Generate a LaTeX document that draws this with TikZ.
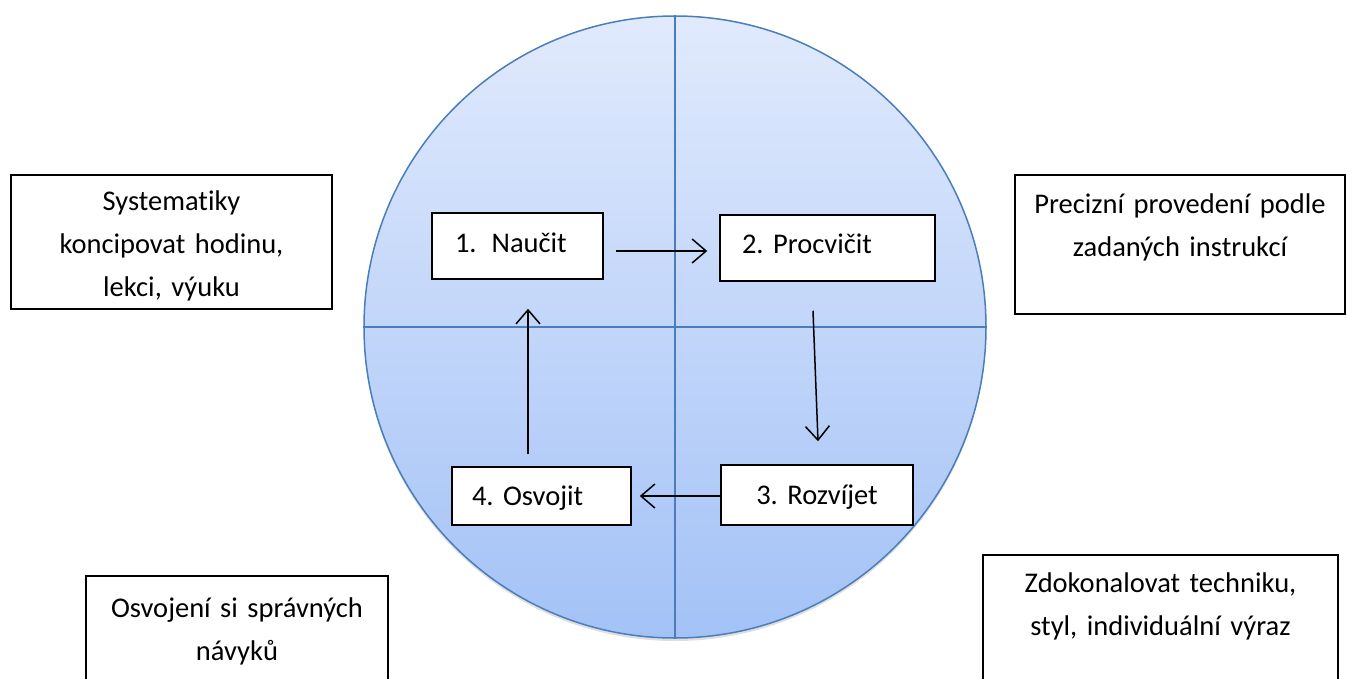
\documentclass[tikz,border=0pt]{standalone}
\usepackage{fontspec}
\setmainfont{Carlito}[RawFeature=-liga]
\usetikzlibrary{arrows.meta,shadows}
\definecolor{cblue}{RGB}{74,126,187}
\definecolor{ctop}{RGB}{225,234,253}
\definecolor{cbot}{RGB}{163,194,246}
\tikzset{
  txt/.style={font=\fontsize{28.5}{43}\selectfont\frenchspacing},
  stepbox/.style={draw=black, line width=1.5pt, fill=white, txt, inner ysep=0pt, align=left},
  notebox/.style={draw=black, line width=1.5pt, fill=white, txt, inner sep=0pt, align=center},
  arr/.style={line width=1.5pt, -{Straight Barb[length=14pt,width=24pt]}},
  axisline/.style={draw=cblue, line width=1.5pt}
}
\begin{document}
\begin{tikzpicture}[x=1pt,y=-1pt]
\useasboundingbox (0,0) rectangle (1347,678);
\clip (0,0) rectangle (1347,678);
\node[circle, minimum size=622pt, inner sep=0pt, draw=cblue, line width=1.5pt,
      top color=ctop, bottom color=cbot,
      drop shadow={opacity=0.25, shadow xshift=0pt, shadow yshift=-3pt}] (circ) at (675,327) {};
\draw[axisline] (circ.north) -- (circ.south);
\draw[axisline] (circ.west) -- (circ.east);

\node[stepbox, inner xsep=23pt, text width=125pt, text height=39pt, text depth=27pt] (b1) at (517.5,246) {1.\hspace{15pt}Naučit};
\node[stepbox, inner xsep=22pt, text width=171pt, text height=38pt, text depth=28pt] (b2) at (827.5,248) {2. Procvičit};
\node[stepbox, inner xsep=0pt, text width=192pt, align=center, text height=39pt, text depth=21pt] (b3) at (817,495) {3. Rozvíjet};
\node[stepbox, inner xsep=20pt, text width=139pt, text height=38pt, text depth=20pt] (b4) at (541.5,496) {4. Osvojit};

\draw[arr] ([shift={(12,5)}]b1.east) -- ([shift={(-12,3)}]b2.west);
\draw[arr] ([shift={(-14.5,29)}]b2.south) -- ([shift={(1,-23)}]b3.north);
\draw[arr] ([shift={(0,1)}]b3.west) -- ([shift={(8,0)}]b4.east);
\draw[arr] ([shift={(-13.5,-12)}]b4.north) -- ([shift={(10.5,29)}]b1.south);

\node[notebox, text width=321pt, text height=35pt, text depth=99pt] (na) at (171.5,242) {Systematiky\\koncipovat hodinu,\\lekci, výuku};
\node[notebox, text width=330pt, text height=38pt, text depth=101pt] (nb) at (1180,244.5) {Precizní provedení podle\\zadaných instrukcí};
\node[notebox, text width=302pt, text height=41pt, text depth=83pt] (nc) at (237,638) {Osvojení si správných\\návyků};
\node[notebox, text width=355pt, text height=37pt, text depth=108pt] (nd) at (1160.5,627.5) {Zdokonalovat techniku,\\styl, individuální výraz};
\end{tikzpicture}
\end{document}
